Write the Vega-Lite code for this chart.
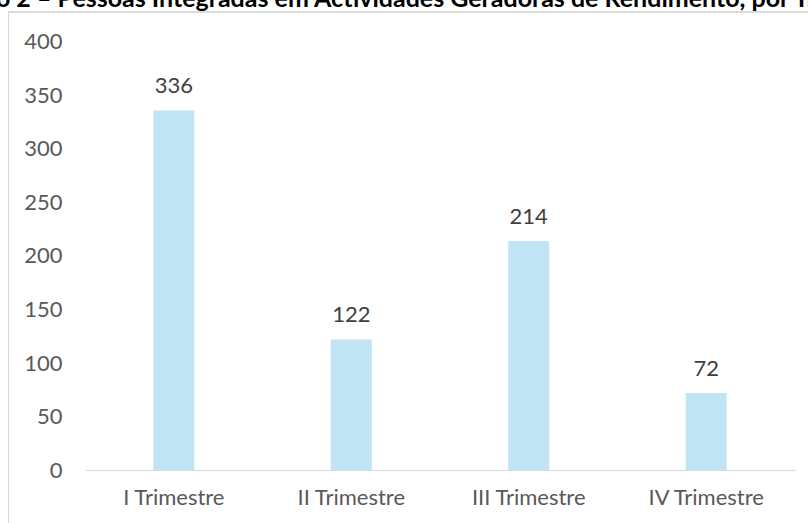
{
  "$schema": "https://vega.github.io/schema/vega-lite/v6.json",
  "width": 800,
  "height": 511,
  "autosize": "none",
  "padding": {"left": 8, "top": 12, "right": 0, "bottom": 0},
  "background": "white",
  "title": {
    "text": "Gráfico 2 – Pessoas Integradas em Actividades Geradoras de Rendimento, por Trimestre",
    "anchor": "start",
    "baseline": "alphabetic",
    "offset": 4,
    "dx": -78,
    "dy": 24,
    "font": "Lato",
    "fontSize": 25,
    "fontWeight": "bold",
    "color": "#000000"
  },
  "config": {"view": {"stroke": null}},
  "data": {
    "values": [
      {"trimestre": "I Trimestre", "pessoas": 336},
      {"trimestre": "II Trimestre", "pessoas": 122},
      {"trimestre": "III Trimestre", "pessoas": 214},
      {"trimestre": "IV Trimestre", "pessoas": 72}
    ]
  },
  "layer": [
    {
      "mark": {"type": "rule", "color": "#d9d9d9", "strokeWidth": 1},
      "encoding": {
        "y": {"datum": 428, "type": "quantitative", "scale": {"domain": [-49.5, 428], "nice": false, "zero": false}, "axis": {
          "title": null,
          "values": [0, 50, 100, 150, 200, 250, 300, 350, 400],
          "domain": true,
          "domainColor": "#d9d9d9",
          "domainWidth": 1,
          "ticks": false,
          "grid": false,
          "labelAlign": "right",
          "labelPadding": -54,
          "labelFont": "Lato",
          "labelFontSize": 22,
          "labelColor": "#595959"
        }}
      }
    },
    {
      "mark": {"type": "bar", "color": "#c1e4f5"},
      "encoding": {
        "x": {
          "field": "trimestre",
          "type": "nominal",
          "sort": null,
          "scale": {"range": [77, 787], "paddingInner": 0.769, "paddingOuter": 0.385},
          "axis": {
            "title": null,
            "orient": "bottom",
            "offset": -53,
            "labelAngle": 0,
            "ticks": false,
            "grid": false,
            "domainColor": "#d9d9d9",
            "domainWidth": 1,
            "labelPadding": 17,
            "labelFont": "Lato",
            "labelFontSize": 22,
            "labelColor": "#595959"
          }
        },
        "y": {"field": "pessoas", "type": "quantitative"},
        "y2": {"datum": 0}
      }
    },
    {
      "mark": {
        "type": "text",
        "baseline": "alphabetic",
        "dy": -17,
        "font": "Lato",
        "fontSize": 22,
        "color": "#404040"
      },
      "encoding": {
        "x": {"field": "trimestre", "type": "nominal", "sort": null},
        "y": {"field": "pessoas", "type": "quantitative"},
        "text": {"field": "pessoas", "type": "quantitative"}
      }
    }
  ]
}
